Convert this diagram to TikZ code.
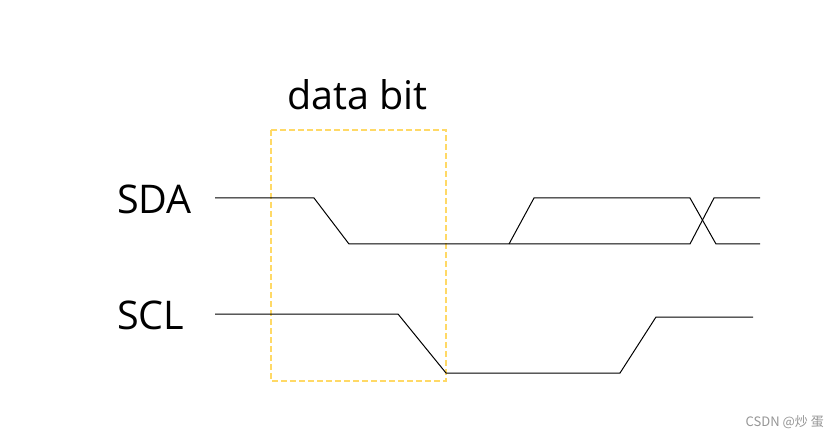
\documentclass[tikz,border=0pt]{standalone}
\usepackage{fontspec}
\setmainfont{Open Sans}
\newfontfamily\cjk{Noto Sans CJK SC}
\definecolor{boxyellow}{RGB}{255,217,102}
\definecolor{wmgray}{RGB}{150,150,150}
\begin{document}
\begin{tikzpicture}[x=1pt,y=1pt,
  wave/.style={draw=black,line width=1pt,line join=miter},
  sig/.style={anchor=base west,inner sep=0pt,font=\fontsize{39.5}{41}\selectfont},
  bitbox/.style={draw=boxyellow,line width=1.8pt,dash pattern=on 6pt off 3pt}]
\useasboundingbox[fill=white] (0,0) rectangle (838,437);
% labels
\node[sig] (sda) at (117,223) {SDA};
\node[sig] (scl) at (117,108) {SCL};
\node[sig] (bit) at (287,327) {data bit};
% data-bit window
\draw[bitbox] (271,307) rectangle (446,56);
% SDA waveform
\coordinate (a0) at (215,239);
\coordinate (a1) at (314,239);
\coordinate (a2) at (349,193);
\coordinate (a3) at (690,193);
\coordinate (a4) at (714,239);
\coordinate (a5) at (760,239);
\coordinate (b0) at (509,193);
\coordinate (b1) at (534,239);
\coordinate (b2) at (690,239);
\coordinate (b3) at (716,193);
\coordinate (b4) at (760,193);
\draw[wave] (a0) -- (a1) -- (a2) -- (a3) -- (a4) -- (a5);
\draw[wave] (b0) -- (b1) -- (b2) -- (b3) -- (b4);
% SCL waveform
\coordinate (c0) at (215,123);
\coordinate (c1) at (398,123);
\coordinate (c2) at (446,64);
\coordinate (c3) at (620,64);
\coordinate (c4) at (656,120);
\coordinate (c5) at (753,120);
\draw[wave] (c0) -- (c1) -- (c2) -- (c3) -- (c4) -- (c5);
% watermark
\node[anchor=base east,inner sep=0pt,text=wmgray,font=\cjk\fontsize{13}{14}\selectfont] (wm) at (824,11) {CSDN @炒 蛋};
\end{tikzpicture}
\end{document}
